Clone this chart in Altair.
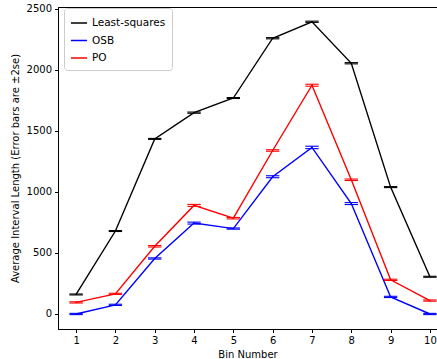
import altair as alt
import pandas as pd

bins = [1, 2, 3, 4, 5, 6, 7, 8, 9, 10]
series_names = ["Least-squares", "OSB", "PO"]
ls_vals = [160, 680, 1435, 1650, 1770, 2260, 2395, 2055, 1040, 305]
osb_vals = [0, 75, 455, 745, 700, 1125, 1365, 905, 140, 0]
po_vals = [95, 165, 555, 890, 785, 1340, 1875, 1100, 280, 110]
ls_err = [4, 4, 4, 5, 4, 5, 5, 5, 4, 4]
osb_err = [5, 5, 5, 8, 5, 8, 10, 8, 5, 5]
po_err = [5, 5, 6, 8, 6, 6, 8, 6, 5, 5]
colors = ["#000000", "#0000ff", "#ff0000"]

rows = []
for name, vals, errs in zip(series_names, [ls_vals, osb_vals, po_vals], [ls_err, osb_err, po_err]):
    for b, v, e in zip(bins, vals, errs):
        rows.append({"bin": b, "value": v, "err": e, "series": name})
df = pd.DataFrame(rows)

xscale = alt.Scale(domain=[0.54, 10.18], nice=False, zero=False)
yscale = alt.Scale(domain=[-123, 2516], nice=False, zero=False)
cscale = alt.Scale(domain=series_names, range=colors)

base = alt.Chart(df)

lines = base.mark_line(strokeWidth=1.4, clip=True).encode(
    x=alt.X("bin:Q", scale=xscale, title="Bin Number",
            axis=alt.Axis(values=bins, format="d", grid=False)),
    y=alt.Y("value:Q", scale=yscale, title="Average Interval Length (Error bars are \u00b12se)",
            axis=alt.Axis(values=[0, 500, 1000, 1500, 2000, 2500], format="d", grid=False)),
    color=alt.Color("series:N", scale=cscale, title=None,
                    legend=alt.Legend(orient="none", legendX=6, legendY=1,
                                      symbolType="stroke", symbolSize=260,
                                      symbolStrokeWidth=1.5,
                                      labelFontSize=10.5, labelFont="DejaVu Sans",
                                      labelColor="#000000",
                                      fillColor="white", strokeColor="#cccccc",
                                      cornerRadius=3, padding=6,
                                      rowPadding=2.5, symbolOffset=0)),
    detail="series:N",
)

vbars = base.transform_calculate(
    lo="datum.value - datum.err", hi="datum.value + datum.err"
).mark_rule(strokeWidth=1.4, clip=True).encode(
    x="bin:Q", y=alt.Y("lo:Q", scale=yscale), y2="hi:Q",
    color=alt.Color("series:N", scale=cscale, legend=None),
)

caps_lo = base.transform_calculate(
    xa="datum.bin - 0.17", xb="datum.bin + 0.17", yv="datum.value - datum.err"
).mark_rule(strokeWidth=1.1, clip=True).encode(
    x=alt.X("xa:Q", scale=xscale), x2="xb:Q", y=alt.Y("yv:Q", scale=yscale),
    color=alt.Color("series:N", scale=cscale, legend=None),
)
caps_hi = base.transform_calculate(
    xa="datum.bin - 0.17", xb="datum.bin + 0.17", yv="datum.value + datum.err"
).mark_rule(strokeWidth=1.1, clip=True).encode(
    x=alt.X("xa:Q", scale=xscale), x2="xb:Q", y=alt.Y("yv:Q", scale=yscale),
    color=alt.Color("series:N", scale=cscale, legend=None),
)

chart = alt.layer(lines, vbars, caps_lo, caps_hi).properties(
    width=379, height=322,
    padding={"left": 58, "top": 7, "right": 0, "bottom": 30},
    autosize=alt.AutoSizeParams(type="none"),
).configure_view(
    stroke="#000000", strokeWidth=1
).configure_axis(
    labelFont="DejaVu Sans", titleFont="DejaVu Sans",
    labelFontSize=10, titleFontSize=10,
    labelColor="#000000", titleColor="#000000",
    titleFontWeight="normal",
    domainColor="#000000", tickColor="#000000",
    tickSize=3.5, labelPadding=3,
).configure_axisX(titlePadding=4).configure_axisY(titlePadding=6)

chart.save("out.html", embed_options={"renderer": "svg", "actions": False})
